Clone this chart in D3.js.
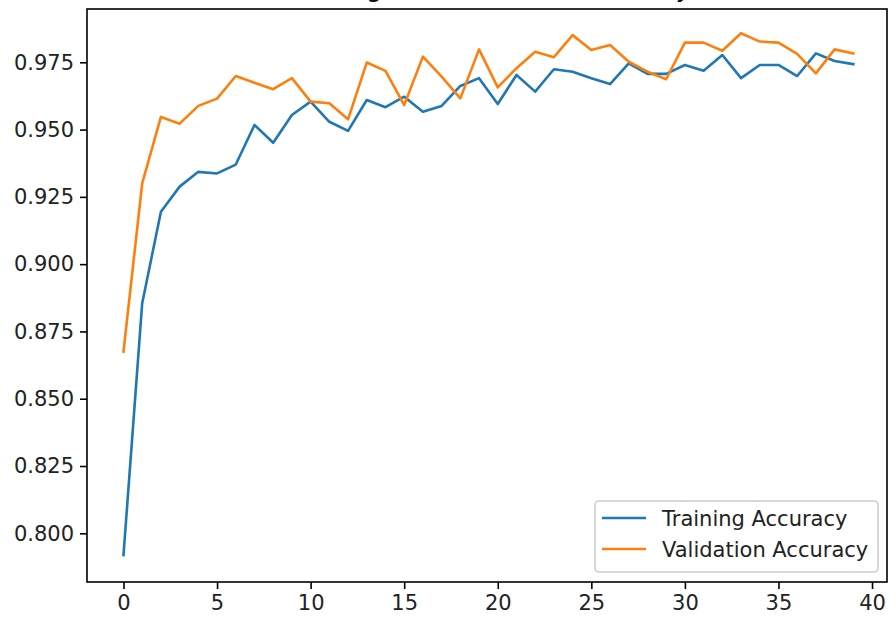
<!DOCTYPE html>
<html>
<head>
<meta charset="utf-8">
<script src="https://cdn.jsdelivr.net/npm/d3@7/dist/d3.min.js"></script>
<style>
  html, body { margin: 0; padding: 0; background: #fff; }
  svg { display: block; }
  text { font-family: "DejaVu Sans", sans-serif; }
</style>
</head>
<body>
<svg id="chart" width="889" height="617"></svg>
<script>
// ---- data ----
const epochs = d3.range(40);
const trainingAccuracy = [
  0.7919, 0.8855, 0.9195, 0.9288, 0.9343, 0.9337, 0.9370, 0.9517, 0.9451, 0.9554,
  0.9604, 0.9529, 0.9495, 0.9610, 0.9583, 0.9622, 0.9566, 0.9588, 0.9662, 0.9691,
  0.9595, 0.9703, 0.9641, 0.9724, 0.9715, 0.9691, 0.9669, 0.9746, 0.9707, 0.9707,
  0.9740, 0.9719, 0.9777, 0.9691, 0.9740, 0.9740, 0.9699, 0.9783, 0.9755, 0.9743
];
const validationAccuracy = [
  0.8675, 0.9300, 0.9547, 0.9522, 0.9588, 0.9615, 0.9699, 0.9674, 0.9650, 0.9691,
  0.9604, 0.9598, 0.9538, 0.9749, 0.9718, 0.9591, 0.9771, 0.9697, 0.9616, 0.9798,
  0.9657, 0.9728, 0.9789, 0.9769, 0.9851, 0.9796, 0.9814, 0.9752, 0.9715, 0.9687,
  0.9823, 0.9823, 0.9793, 0.9858, 0.9827, 0.9823, 0.9781, 0.9709, 0.9798, 0.9783
];
const seriesNames = ["Training Accuracy", "Validation Accuracy"];
const seriesColors = ["#1f77b4", "#ff7f0e"];
const xTickValues = [0, 5, 10, 15, 20, 25, 30, 35, 40];
const yTickValues = [0.800, 0.825, 0.850, 0.875, 0.900, 0.925, 0.950, 0.975];
const titleText = "Training and Validation Accuracy";

// ---- layout ----
const svg = d3.select("#chart");
const plotL = 87, plotR = 887, plotT = 9, plotB = 582;
const fs = 21;

const x = d3.scaleLinear().domain([-1.95, 40.8]).range([plotL, plotR]);
const y = d3.scaleLinear().domain([0.7819, 0.9948]).range([plotB, plotT]);

// title (mostly outside the top of the picture)
svg.append("text")
  .attr("x", (plotL + plotR) / 2)
  .attr("y", plotT - 12.5)
  .attr("text-anchor", "middle")
  .attr("font-size", 25)
  .attr("fill", "#000")
  .text(titleText);

// lines
const line = d3.line().x((d, i) => x(epochs[i])).y(d => y(d));
[trainingAccuracy, validationAccuracy].forEach((s, k) => {
  svg.append("path")
    .datum(s)
    .attr("d", line)
    .attr("fill", "none")
    .attr("stroke", seriesColors[k])
    .attr("stroke-width", 2.6)
    .attr("stroke-linejoin", "round")
    .attr("stroke-linecap", "square");
});

// axes
const xAxis = d3.axisBottom(x).tickValues(xTickValues).tickSize(7).tickPadding(6).tickFormat(d3.format("d"));
const yAxis = d3.axisLeft(y).tickValues(yTickValues).tickSize(7).tickPadding(6).tickFormat(d3.format(".3f"));

const gx = svg.append("g").attr("transform", `translate(0,${plotB})`).call(xAxis);
const gy = svg.append("g").attr("transform", `translate(${plotL},0)`).call(yAxis);
[gx, gy].forEach(g => {
  g.select(".domain").remove();
  g.selectAll(".tick line").attr("stroke", "#000").attr("stroke-width", 1.6);
  g.selectAll(".tick text").attr("font-size", fs).attr("fill", "#222")
    .attr("font-family", "DejaVu Sans, sans-serif");
});

// frame
svg.append("rect")
  .attr("x", plotL).attr("y", plotT)
  .attr("width", plotR - plotL).attr("height", plotB - plotT)
  .attr("fill", "none").attr("stroke", "#000").attr("stroke-width", 1.6);

// legend
const lg = svg.append("g");
lg.append("rect")
  .attr("x", 595).attr("y", 501).attr("width", 283).attr("height", 71)
  .attr("rx", 4).attr("ry", 4)
  .attr("fill", "#fff").attr("fill-opacity", 0.8)
  .attr("stroke", "#cccccc").attr("stroke-width", 1.6);
seriesNames.forEach((name, k) => {
  const cy = 518 + k * 31;
  lg.append("line")
    .attr("x1", 602).attr("x2", 646).attr("y1", cy).attr("y2", cy)
    .attr("stroke", seriesColors[k]).attr("stroke-width", 2.6);
  lg.append("text")
    .attr("x", 662).attr("y", cy).attr("dy", "0.36em")
    .attr("font-size", fs).attr("fill", "#222")
    .text(name);
});
</script>
</body>
</html>
